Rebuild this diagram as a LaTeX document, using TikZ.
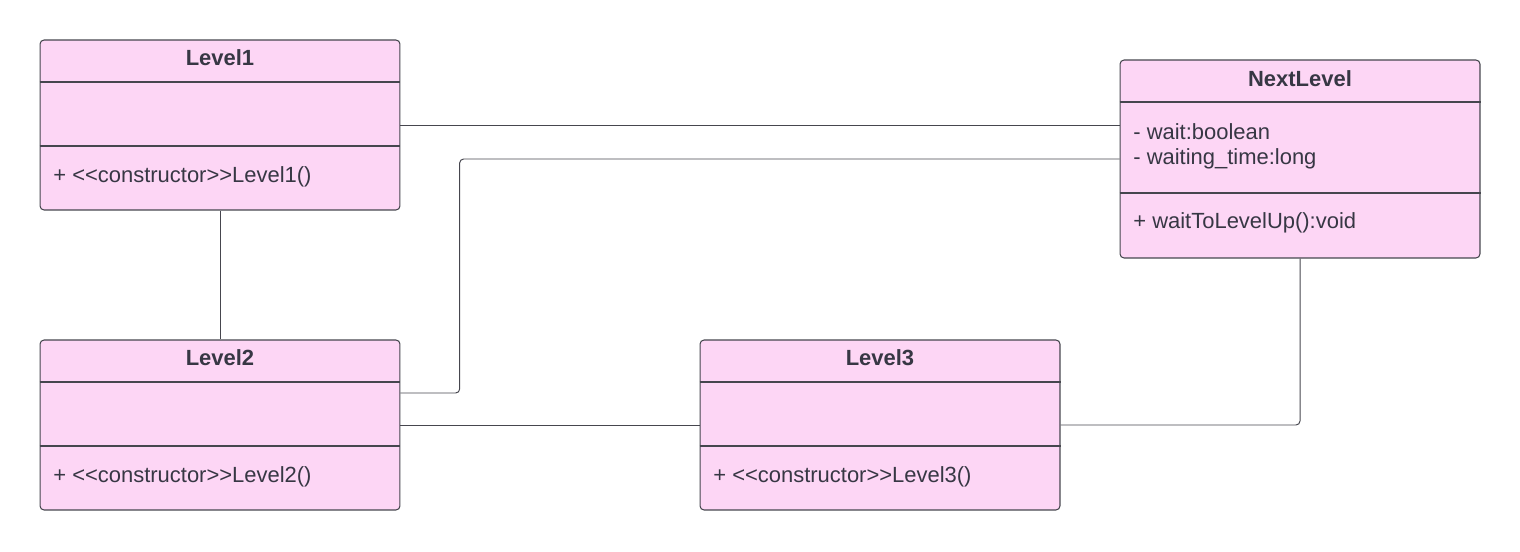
\documentclass[tikz,border=0pt]{standalone}
\usepackage{fontspec}
\setmainfont{Liberation Sans}
\usepackage{xcolor}
\usetikzlibrary{calc, positioning}

\definecolor{classpink}{RGB}{253,214,245}
\definecolor{edgegray}{RGB}{70,70,78}
\definecolor{inkgray}{RGB}{55,55,68}

\tikzset{
    classbox/.style={draw=edgegray, fill=classpink, line width=0.6pt, rounded corners=0.08cm, minimum width=7.2cm, inner sep=0pt},
    divider/.style={draw=edgegray, line width=0.6pt},
    title/.style={font=\fontsize{12.5}{15}\selectfont\bfseries, text=inkgray},
    member/.style={font=\fontsize{12.5}{15}\selectfont, text=inkgray, anchor=west, inner sep=0pt},
    link/.style={draw=edgegray, line width=0.55pt, rounded corners=0.08cm}
}

\begin{document}
\begin{tikzpicture}[x=0.02cm, y=-0.02cm]
                        \useasboundingbox (0, 0) rectangle (1520, 551);

                        % classes
                        \node[classbox, minimum height=3.4cm] (l1) at (220, 125) {};
                        \node[classbox, minimum height=3.4cm] (l2) at (220, 425) {};
                        \node[classbox, minimum height=3.4cm] (l3) at (880, 425) {};
                        \node[classbox, minimum height=3.96cm] (nl) at (1300, 159) {};

                        \draw[divider]
                        (l1.west |- 0, 82) -- (l1.east |- 0, 82)
                        (l1.west |- 0, 146) -- (l1.east |- 0, 146)
                        (l2.west |- 0, 382) -- (l2.east |- 0, 382)
                        (l2.west |- 0, 446) -- (l2.east |- 0, 446)
                        (l3.west |- 0, 382) -- (l3.east |- 0, 382)
                        (l3.west |- 0, 446) -- (l3.east |- 0, 446)
                        (nl.west |- 0, 102) -- (nl.east |- 0, 102)
                        (nl.west |- 0, 193) -- (nl.east |- 0, 193);

                        \node[title] (l1name) at (220, 58) {Level1};
                        \node[member] (l1ctor) at (53, 177) {+ <{}<constructor>{}>Level1()};
                        \node[title] (l2name) at (220, 358) {Level2};
                        \node[member] (l2ctor) at (53, 477) {+ <{}<constructor>{}>Level2()};
                        \node[title] (l3name) at (880, 358) {Level3};
                        \node[member] (l3ctor) at (713, 477) {+ <{}<constructor>{}>Level3()};
                        \node[title] (nlname) at (1300, 79) {NextLevel};
                        \node[member] (nlwait) at (1133, 132) {- wait:boolean};
                        \node[member] (nltime) at (1133, 159) {- waiting\_time:long};
                        \node[member] (nlup) at (1133, 223) {+ waitToLevelUp():void};

                        % associations
                        \draw[link] (l1.east) -- (l1.east -| nl.west);
                        \draw[link] (l1.south) -- (l2.north);
                        \draw[link] ([yshift=0.64cm]l2.east) -| ([xshift=-13.2cm]nl.west) -- (nl.west);
                        \draw[link] (l2.east) -- (l3.west);
                        \draw[link] (l3.east) -| (nl.south);
                    \end{tikzpicture}
\end{document}
